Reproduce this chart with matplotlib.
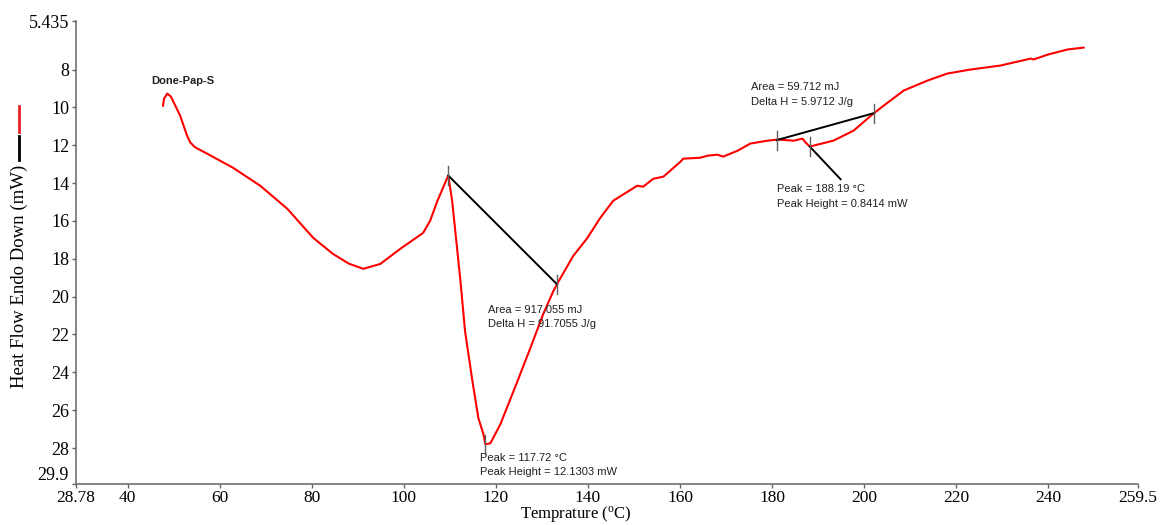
import matplotlib
matplotlib.use("Agg")
import matplotlib.pyplot as plt
from matplotlib.lines import Line2D

# DSC trace (temperature in C, heat flow in mW)
temp = [47.7, 47.9, 48.6, 49.4, 51.4, 52.9, 53.6, 54.6, 57.3, 62.9, 68.8, 74.7, 80.3,
        84.6, 88.0, 91.2, 94.9, 99.2, 104.2, 105.7, 107.3, 109.65,
        110.5, 112.3, 113.3, 114.9, 116.2, 117.3, 117.72, 118.8, 121.0, 124.7,
        127.5, 130.3, 132.5, 133.3, 136.8, 139.9, 142.7, 145.5, 150.7, 152.0,
        154.2, 156.4, 160.1, 160.7, 164.4, 166.0, 168.1, 169.4, 172.5, 175.3,
        179.0, 181.2, 184.7, 186.6, 187.3, 188.19, 189.0, 193.3, 197.7, 202.0,
        205.7, 208.6, 213.8, 218.1, 223.1, 229.6, 236.2, 236.8, 239.9, 244.2,
        247.7]
flow = [9.91, 9.54, 9.27, 9.43, 10.43, 11.49, 11.85, 12.1, 12.45, 13.19, 14.14, 15.36, 16.89,
        17.74, 18.25, 18.53, 18.27, 17.48, 16.63, 16.0, 14.94, 13.6,
        14.94, 19.17, 21.82, 24.46, 26.42, 27.27, 27.8, 27.75, 26.73, 24.46,
        22.71, 20.91, 19.7, 19.33, 17.85, 16.89, 15.83, 14.93, 14.14, 14.19,
        13.77, 13.66, 12.87, 12.71, 12.66, 12.55, 12.5, 12.6, 12.29, 11.91,
        11.76, 11.70, 11.76, 11.65, 11.86, 12.07, 12.02, 11.76, 11.23, 10.33,
        9.64, 9.11, 8.58, 8.21, 8.0, 7.79, 7.42, 7.47, 7.21, 6.94,
        6.84]

# integration baselines
base1_x = [109.65, 133.3]
base1_y = [13.6, 19.35]
base2_x = [181.0, 202.2]
base2_y = [11.73, 10.3]
# peak leader line (second peak)
lead_x = [188.19, 194.9]
lead_y = [12.07, 13.8]
# small vertical markers
mark_x = [109.65, 133.3, 117.72, 181.0, 202.2, 188.19]
mark_y = [13.6, 19.35, 27.8, 11.73, 10.3, 12.07]

xticks = [28.78, 40, 60, 80, 100, 120, 140, 160, 180, 200, 220, 240, 259.5]
xlabels = ["28.78", "40", "60", "80", "100", "120", "140", "160", "180", "200", "220", "240", "259.5"]
yticks = [5.435, 8, 10, 12, 14, 16, 18, 20, 22, 24, 26, 28, 29.9]
ylabels = ["5.435", "8", "10", "12", "14", "16", "18", "20", "22", "24", "26", "28", "29.9"]

serif = "Liberation Serif"
sans = "Liberation Sans"

fig = plt.figure(figsize=(11.66, 5.25), dpi=100)
W, H = 1166, 525
ax = fig.add_axes([76 / W, 1 - 484 / H, (1138 - 76) / W, (484 - 21) / H])

ax.plot(temp, flow, color="#ff0000", lw=1.5)
ax.plot(base1_x, base1_y, color="black", lw=1.4)
ax.plot(base2_x, base2_y, color="black", lw=1.4)
ax.plot(lead_x, lead_y, color="black", lw=1.4)
for mx, my in zip(mark_x, mark_y):
    ax.plot([mx, mx], [my - 0.5, my + 0.5], color="#606060", lw=1.0)

ax.set_xlim(28.78, 259.5)
ax.set_ylim(29.9, 5.435)
ax.set_xticks(xticks)
ax.set_xticklabels(xlabels, fontfamily=serif, fontsize=12.5)
ax.set_yticks(yticks)
ax.set_yticklabels(ylabels, fontfamily=serif, fontsize=13)
ax.tick_params(direction="out", length=3, width=1, color="#606060", pad=1)
ax.tick_params(axis="y", pad=2)
# keep the bottom y label clear of the first x label
ax.get_yticklabels()[-1].set_va("bottom")

for s in ["top", "right"]:
    ax.spines[s].set_visible(False)
for s in ["left", "bottom"]:
    ax.spines[s].set_color("#707070")
    ax.spines[s].set_linewidth(1.2)

kw = dict(fontfamily=sans, fontsize=8, va="center", ha="left", color="#202020")
ax.text(45.1, 8.58, "Done-Pap-S", fontweight="bold", **kw)
ax.text(118.3, 20.7, "Area = 917.055 mJ", **kw)
ax.text(118.3, 21.44, "Delta H = 91.7055 J/g", **kw)
ax.text(116.6, 28.53, "Peak = 117.72 \u00b0C", **kw)
ax.text(116.6, 29.27, "Peak Height = 12.1303 mW", **kw)
ax.text(175.5, 8.9, "Area = 59.712 mJ", **kw)
ax.text(175.5, 9.7, "Delta H = 5.9712 J/g", **kw)
ax.text(181.0, 14.3, "Peak = 188.19 \u00b0C", **kw)
ax.text(181.0, 15.1, "Peak Height = 0.8414 mW", **kw)

fig.text(576 / W, 1 / H, "Temprature ($\\mathregular{^o}$C)", fontfamily=serif,
         fontsize=12, ha="center", va="bottom")
fig.text(19 / W, 1 - 276 / H, "Heat Flow Endo Down (mW)", fontfamily=serif,
         fontsize=13.5, ha="center", va="center", rotation=90)
fig.add_artist(Line2D([19 / W, 19 / W], [1 - 106 / H, 1 - 132 / H], color="#e8202a", lw=2))
fig.add_artist(Line2D([19 / W, 19 / W], [1 - 136 / H, 1 - 160 / H], color="black", lw=2))

fig.savefig("out.png", dpi=100)
